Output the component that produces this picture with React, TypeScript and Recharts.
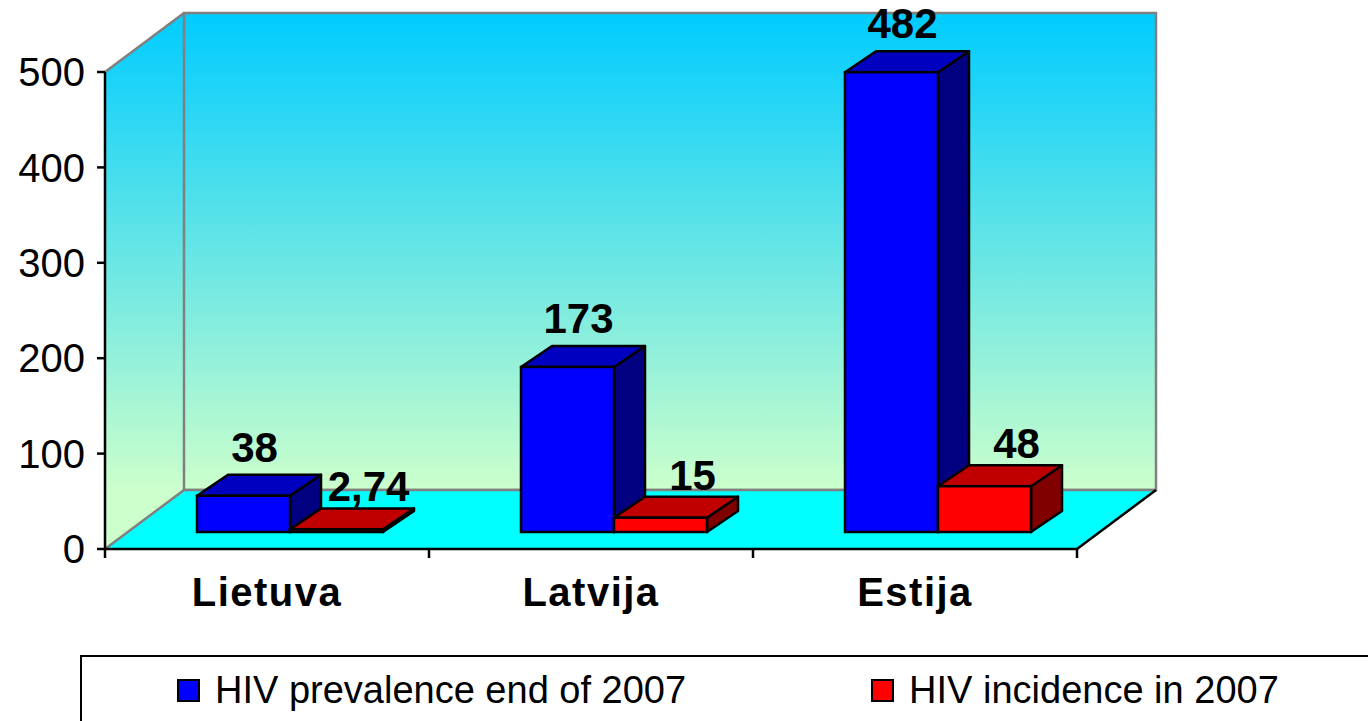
import React from 'react';
import * as R from 'recharts';

const { BarChart, Bar, XAxis, YAxis, LabelList, Legend } = R as any;

// ---------- data ----------
const categories = ['Lietuva', 'Latvija', 'Estija'];
const prevalence = [38, 173, 482];
const incidence = [2.74, 15, 48];
const yTicks = [0, 100, 200, 300, 400, 500];
const seriesNames = ['HIV prevalence end of 2007', 'HIV incidence in 2007'];

const data = categories.map((c, i) => ({
  name: c,
  prevalence: prevalence[i],
  incidence: incidence[i],
}));

// ---------- layout / style ----------
const W = 1368;
const H = 721;
const MARGIN = { top: 72, right: 291, bottom: 112, left: 5 };
const YAXIS_W = 100;
const XAXIS_H = 60;
const FONT = '"Liberation Sans", Arial, Helvetica, sans-serif';

const WALL = { dx: 79, dy: -59 };
const BAR_OFF = { dx: 23, dy: -17 };
const BAR_DEPTH = { dx: 31, dy: -21 };

const COLORS = {
  blue: { front: '#0000FF', top: '#0000C0', side: '#000080' },
  red: { front: '#FF0000', top: '#C00000', side: '#800000' },
};

const usePA: any = (R as any).usePlotArea;

function Walls() {
  const pa = usePA ? usePA() : null;
  const left = pa && pa.x != null ? pa.x : MARGIN.left + YAXIS_W;
  const top = pa && pa.y != null ? pa.y : MARGIN.top;
  const width = pa && pa.width != null ? pa.width : W - MARGIN.left - YAXIS_W - MARGIN.right;
  const height = pa && pa.height != null ? pa.height : H - MARGIN.top - MARGIN.bottom - XAXIS_H;
  const right = left + width;
  const bottom = top + height;
  const bl = left + WALL.dx;
  const br = right + WALL.dx;
  const bt = top + WALL.dy;
  const bb = bottom + WALL.dy;
  const n = categories.length;
  const ticks = Array.from({ length: n + 1 }, (_, i) => left + (i * width) / n);
  return (
    <g>
      <defs>
        <linearGradient id="wallGrad" gradientUnits="userSpaceOnUse" x1="0" y1={bt} x2="0" y2={bb}>
          <stop offset="0" stopColor="#00CCFF" />
          <stop offset="1" stopColor="#CCFFCC" />
        </linearGradient>
      </defs>
      <polygon
        points={`${left},${top} ${bl},${bt} ${bl},${bb} ${left},${bottom}`}
        fill="url(#wallGrad)"
        stroke="none"
      />
      <rect x={bl} y={bt} width={br - bl} height={bb - bt} fill="url(#wallGrad)" stroke="#808080" strokeWidth={2.5} />
      <polygon
        points={`${left},${bottom} ${right},${bottom} ${br},${bb} ${bl},${bb}`}
        fill="#00FFFF"
        stroke="none"
      />
      <line x1={bl} y1={bb} x2={br} y2={bb} stroke="#808080" strokeWidth={2.5} />
      <line x1={left} y1={top} x2={bl} y2={bt} stroke="#808080" strokeWidth={2.5} />
      <line x1={left} y1={bottom} x2={bl} y2={bb} stroke="#808080" strokeWidth={2.5} />
      <line x1={right} y1={bottom} x2={br} y2={bb} stroke="#000" strokeWidth={2.5} />
      {ticks.map((tx, i) => (
        <line key={i} x1={tx} y1={bottom} x2={tx} y2={bottom + 9} stroke="#000" strokeWidth={2.5} />
      ))}
    </g>
  );
}

const makeBox = (c: { front: string; top: string; side: string }) => (props: any) => {
  const { x, y, width, height } = props;
  if (x == null || width == null || height == null) return null;
  const fx = x + BAR_OFF.dx;
  const fy = y + BAR_OFF.dy;
  const h = Math.max(height, 0);
  const dx = BAR_DEPTH.dx;
  const dy = BAR_DEPTH.dy;
  const sw = 2.5;
  return (
    <g>
      <polygon
        points={`${fx + width},${fy} ${fx + width + dx},${fy + dy} ${fx + width + dx},${fy + h + dy} ${fx + width},${fy + h}`}
        fill={c.side}
        stroke="#000"
        strokeWidth={sw}
        strokeLinejoin="round"
      />
      <polygon
        points={`${fx},${fy} ${fx + dx},${fy + dy} ${fx + width + dx},${fy + dy} ${fx + width},${fy}`}
        fill={c.top}
        stroke="#000"
        strokeWidth={sw}
        strokeLinejoin="round"
      />
      <rect x={fx} y={fy} width={width} height={h} fill={c.front} stroke="#000" strokeWidth={sw} />
    </g>
  );
};

const makeLabel = (dxExtra: number, above: number) => (props: any) => {
  const { x, y, width, value } = props;
  if (x == null) return null;
  return (
    <text
      x={Number(x) + Number(width) / 2 + BAR_OFF.dx + dxExtra}
      y={Number(y) + BAR_OFF.dy - above}
      textAnchor="middle"
      fontFamily={FONT}
      fontWeight="bold"
      fontSize={42}
      fill="#000"
    >
      {String(value).replace('.', ',')}
    </text>
  );
};

const CategoryTick = (props: any) => {
  const { x, y, payload } = props;
  return (
    <text
      x={x}
      y={y}
      dy={57}
      textAnchor="middle"
      fontFamily={FONT}
      fontWeight="bold"
      fontSize={40}
      letterSpacing={1.5}
      fill="#000"
    >
      {payload.value}
    </text>
  );
};

const renderLegend = (props: any) => {
  const payload = [...(props.payload || [])].sort(
    (a: any, b: any) => seriesNames.indexOf(a.value) - seriesNames.indexOf(b.value)
  );
  return (
    <div
      style={{
        width: 1320,
        height: 70,
        border: '2.5px solid #000',
        background: '#fff',
        boxSizing: 'border-box',
        display: 'flex',
        alignItems: 'center',
        paddingLeft: 95,
        fontFamily: FONT,
        fontSize: 38,
        color: '#000',
        whiteSpace: 'nowrap',
      }}
    >
      {payload.map((p: any, i: number) => (
        <div
          key={i}
          style={{ display: 'flex', alignItems: 'center', marginRight: i === 0 ? 185 : 0 }}
        >
          <span
            style={{
              display: 'inline-block',
              width: 23,
              height: 23,
              background: p.color,
              border: '2.5px solid #000',
              boxSizing: 'border-box',
              marginRight: 15,
            }}
          />
          <span>{p.value}</span>
        </div>
      ))}
    </div>
  );
};

export default function App() {
  return (
    <div
      style={{
        position: 'fixed',
        left: 0,
        top: 0,
        width: W,
        height: H,
        overflow: 'hidden',
        background: '#fff',
      }}
    >
      <BarChart width={W} height={H} data={data} margin={MARGIN} barGap={0} barSize={93}>
        <Walls />
        <XAxis
          dataKey="name"
          height={XAXIS_H}
          tickLine={false}
          tickSize={0}
          tickMargin={0}
          axisLine={{ stroke: '#000', strokeWidth: 2.5 }}
          tick={<CategoryTick />}
          interval={0}
        />
        <YAxis
          type="number"
          domain={[0, 500]}
          ticks={yTicks}
          interval={0}
          width={YAXIS_W}
          tickSize={8}
          tickMargin={12}
          axisLine={{ stroke: '#000', strokeWidth: 2.5 }}
          tickLine={{ stroke: '#000', strokeWidth: 2.5 }}
          tick={{ fontSize: 40, fill: '#000', fontFamily: FONT }}
        />
        <Legend
          content={renderLegend}
          itemSorter={null}
          layout="horizontal"
          verticalAlign="middle"
          align="center"
          wrapperStyle={{ left: 80, top: 655, width: 1320, height: 70 }}
        />
        <Bar
          dataKey="prevalence"
          name={seriesNames[0]}
          fill={COLORS.blue.front}
          shape={makeBox(COLORS.blue)}
          isAnimationActive={false}
        >
          <LabelList dataKey="prevalence" content={makeLabel(11, 34)} />
        </Bar>
        <Bar
          dataKey="incidence"
          name={seriesNames[1]}
          fill={COLORS.red.front}
          shape={makeBox(COLORS.red)}
          isAnimationActive={false}
        >
          <LabelList dataKey="incidence" content={makeLabel(32, 28)} />
        </Bar>
      </BarChart>
    </div>
  );
}
